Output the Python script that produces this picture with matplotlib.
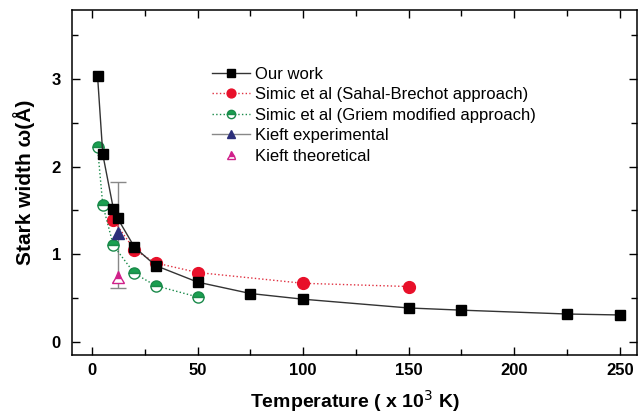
import matplotlib
matplotlib.use("Agg")
import matplotlib.pyplot as plt

plt.rcParams['font.family'] = ['Liberation Sans', 'DejaVu Sans']

# Our work
our_T = [2.5, 5, 10, 12, 20, 30, 50, 75, 100, 150, 175, 225, 250]
our_w = [3.04, 2.14, 1.52, 1.41, 1.08, 0.87, 0.68, 0.55, 0.485, 0.385, 0.36, 0.316, 0.305]

# Simic et al (Sahal-Brechot approach)
sb_T = [10, 20, 30, 50, 100, 150]
sb_w = [1.39, 1.05, 0.90, 0.79, 0.667, 0.63]

# Simic et al (Griem modified approach)
gm_T = [2.5, 5, 10, 20, 30, 50]
gm_w = [2.22, 1.56, 1.10, 0.78, 0.64, 0.51]

# Kieft experimental (with error bar) and theoretical
kexp_T = [12]
kexp_w = [1.24]
kexp_lo = [0.61]
kexp_hi = [1.82]
kth_T = [12]
kth_w = [0.74]

fig = plt.figure(figsize=(6.4, 4.16), dpi=100)
ax = fig.add_axes([72 / 640, (416 - 354.7) / 416, 565 / 640, 344.7 / 416])

ax.plot(our_T, our_w, color='#333333', lw=1.0, marker='s', ms=7,
        mfc='black', mec='black', label='Our work', zorder=4)
ax.plot(sb_T, sb_w, color='#e03040', lw=1.0, ls=':', marker='o', ms=8.5,
        mfc='#e8102a', mec='#e8102a', label='Simic et al (Sahal-Brechot approach)', zorder=3)
ax.plot(gm_T, gm_w, color='#1a8a4a', lw=1.0, ls=':', marker='o', ms=8,
        fillstyle='top', mfc='#1aa050', mfcalt='white', mec='#1a8a4a',
        label='Simic et al (Griem modified approach)', zorder=3)

err_lo = [w - lo for w, lo in zip(kexp_w, kexp_lo)]
err_hi = [hi - w for w, hi in zip(kexp_w, kexp_hi)]
ax.errorbar(kexp_T, kexp_w, yerr=[err_lo, err_hi], color='#888888', lw=1.0,
            capsize=5.5, ecolor='#888888', elinewidth=1.0, fmt='none', zorder=2)
ax.plot(kexp_T, kexp_w, color='#888888', lw=1.0, marker='^', ms=8,
        mfc='#2c2f7a', mec='#2c2f7a', label='Kieft experimental', zorder=5)
ax.plot(kth_T, kth_w, ls='none', marker='^', ms=8, fillstyle='top',
        mfc='#d0208a', mfcalt='white', mec='#d0208a', label='Kieft theoretical', zorder=5)

ax.set_xlim(-9.6, 258.2)
ax.set_ylim(-0.149, 3.79)
ax.set_xticks([0, 50, 100, 150, 200, 250])
ax.set_xticks([25, 75, 125, 175, 225], minor=True)
ax.set_yticks([0, 1, 2, 3])
ax.set_yticks([0.5, 1.5, 2.5, 3.5], minor=True)
ax.tick_params(which='both', direction='in', top=True, right=True, labelsize=12)
ax.tick_params(which='major', length=6, width=1.0)
ax.tick_params(which='minor', length=4, width=1.0)
ax.tick_params(axis='x', which='major', pad=6)
ax.tick_params(axis='y', which='major', pad=8)
for lbl in ax.get_xticklabels() + ax.get_yticklabels():
    lbl.set_fontweight('bold')
for s in ax.spines.values():
    s.set_linewidth(1.1)

ax.set_xlabel('Temperature ( x 10$^3$ K)', fontsize=14, fontweight='bold', labelpad=7)
ax.set_ylabel('Stark width \u03c9(Å)', fontsize=15, fontweight='bold', labelpad=12)

ax.legend(loc='upper left', bbox_to_anchor=(0.221, 0.879), frameon=False, fontsize=12,
          handlelength=2.3, handletextpad=0.3, labelspacing=0.33, markerscale=0.75)

fig.savefig('out.png', dpi=100)
